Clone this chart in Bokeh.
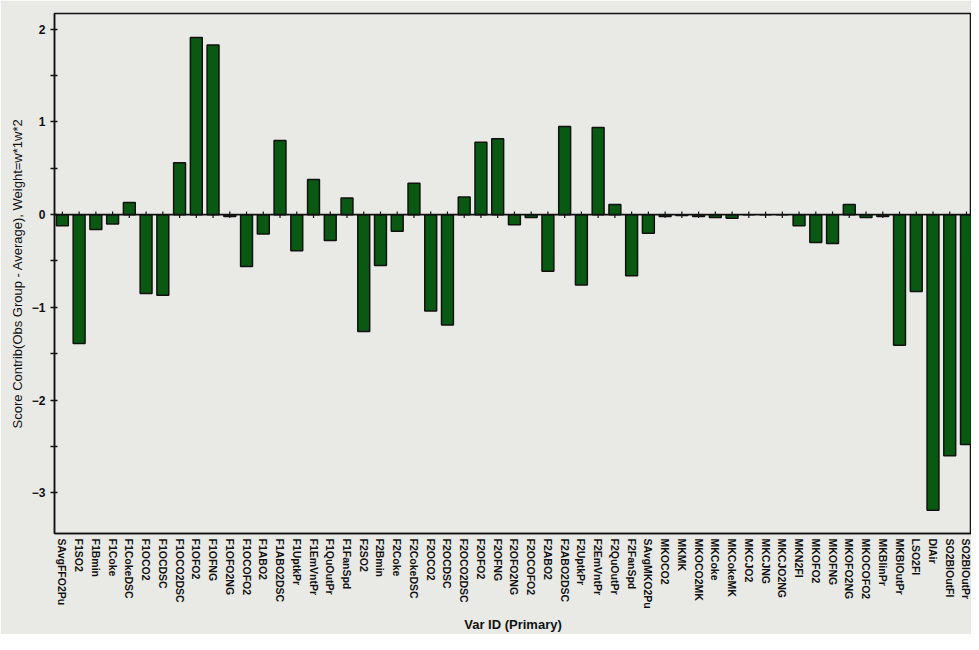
from bokeh.plotting import figure
from bokeh.models import ColumnDataSource, FixedTicker, Span, Range1d
from bokeh.embed import file_html
from bokeh.resources import INLINE

var_ids = [
    "SAvgFFO2Pu", "F1SO2", "F1Bmin", "F1Coke", "F1CokeDSC", "F1OCO2", "F1OCDSC",
    "F1OCO2DSC", "F1OFO2", "F1OFNG", "F1OFO2NG", "F1OCOFO2", "F1ABO2", "F1ABO2DSC",
    "F1UptkPr", "F1EmVntPr", "F1QuOutPr", "F1FanSpd", "F2SO2", "F2Bmin", "F2Coke",
    "F2CokeDSC", "F2OCO2", "F2OCDSC", "F2OCO2DSC", "F2OFO2", "F2OFNG", "F2OFO2NG",
    "F2OCOFO2", "F2ABO2", "F2ABO2DSC", "F2UptkPr", "F2EmVntPr", "F2QuOutPr",
    "F2FanSpd", "SAvgMKO2Pu", "MKOCO2", "MKMK", "MKOCO2MK", "MKCoke", "MKCokeMK",
    "MKCJO2", "MKCJNG", "MKCJO2NG", "MKN2FI", "MKOFO2", "MKOFNG", "MKOFO2NG",
    "MKOCOFO2", "MKBlinPr", "MKBlOutPr", "LSO2FI", "DIAir", "SO2BlOutFl", "SO2BlOutPr",
]
score_contrib = [
    -0.12, -1.39, -0.16, -0.10, 0.13, -0.85, -0.87,
    0.56, 1.91, 1.83, -0.02, -0.56, -0.21, 0.80,
    -0.39, 0.38, -0.28, 0.18, -1.26, -0.55, -0.18,
    0.34, -1.04, -1.19, 0.19, 0.78, 0.82, -0.11,
    -0.03, -0.61, 0.95, -0.76, 0.94, 0.11,
    -0.66, -0.20, -0.02, -0.01, -0.02, -0.03, -0.04,
    0.0, 0.0, 0.0, -0.12, -0.30, -0.31, 0.11,
    -0.03, -0.02, -1.41, -0.83, -3.19, -2.60, -2.48,
]
y_ticks = [-3, -2, -1, 0, 1, 2]

idx = list(range(len(var_ids)))
src = ColumnDataSource(dict(x=idx, top=score_contrib, name=var_ids))

bg = "#e9e9e6"
p = figure(width=971, height=634, output_backend="svg", toolbar_location=None,
           x_range=Range1d(-0.47, 54.3), y_range=Range1d(-3.44, 2.17),
           min_border_left=54, min_border_right=0, min_border_top=13,
           min_border_bottom=99)
p.background_fill_color = bg
p.border_fill_color = bg
p.outline_line_color = "#111111"
p.outline_line_width = 1.5
p.grid.visible = False

# small ticks along the zero line at each category
p.segment(x0="x", y0=-0.035, x1="x", y1=0.035, source=src, line_color="#111111", line_width=1.2)
p.add_layout(Span(location=0, dimension="width", line_color="#111111", line_width=1.8))
p.vbar(x="x", top="top", bottom=0, width=0.71, source=src,
       fill_color="#0a5912", line_color="#111111", line_width=1.5)

# x axis
xa = p.xaxis[0]
xa.ticker = FixedTicker(ticks=idx)
xa.major_label_overrides = {i: n for i, n in enumerate(var_ids)}
xa.major_label_orientation = "vertical"
xa.major_tick_in = 0
xa.major_tick_out = 0
xa.minor_tick_line_color = None
xa.axis_line_color = "#111111"
xa.axis_line_width = 1.5
xa.major_label_standoff = 5
xa.major_label_text_font = "Liberation Sans"
xa.major_label_text_font_style = "bold"
xa.major_label_text_font_size = "10.5px"
xa.major_label_text_color = "#111111"
xa.axis_label = "Var ID (Primary)"
xa.axis_label_text_font = "Liberation Sans"
xa.axis_label_text_font_style = "bold"
xa.axis_label_text_font_size = "13px"
xa.axis_label_text_color = "#111111"
xa.axis_label_standoff = 5

# y axis
ya = p.yaxis[0]
ya.ticker = FixedTicker(ticks=y_ticks, minor_ticks=[-3.5, -2.5, -1.5, -0.5, 0.5, 1.5])
ya.major_tick_in = 3
ya.major_tick_out = 4
ya.minor_tick_in = 3
ya.minor_tick_out = 4
ya.major_tick_line_color = "#111111"
ya.minor_tick_line_color = "#111111"
ya.major_tick_line_width = 1.5
ya.minor_tick_line_width = 1.5
ya.axis_line_color = "#111111"
ya.axis_line_width = 1.5
ya.major_label_standoff = 5
ya.major_label_text_font = "Liberation Sans"
ya.major_label_text_font_style = "bold"
ya.major_label_text_font_size = "12px"
ya.major_label_text_color = "#111111"
ya.axis_label = "Score Contrib(Obs Group - Average), Weight=w*1w*2"
ya.axis_label_text_font = "Liberation Sans"
ya.axis_label_text_font_style = "normal"
ya.axis_label_text_font_size = "13px"
ya.axis_label_text_color = "#111111"
ya.axis_label_standoff = 4

open("out.html", "w").write(file_html(p, INLINE))
